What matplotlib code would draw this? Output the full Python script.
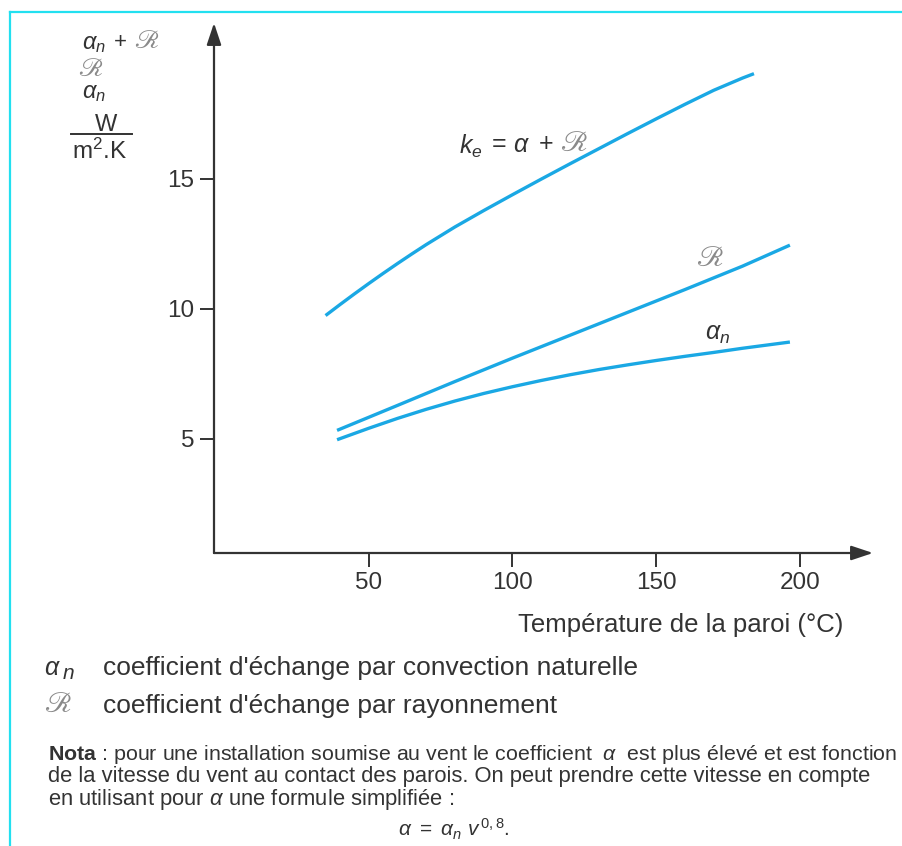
import matplotlib
matplotlib.use("Agg")
import matplotlib.pyplot as plt
from matplotlib.lines import Line2D

# --- data (W/m2.K against wall temperature, degC) ---
ke_x = [35, 40, 45, 50, 55, 60, 65, 70, 80, 90, 100, 110, 120, 130, 140, 150, 160, 170, 180, 184]
ke_y = [9.74, 10.16, 10.57, 10.97, 11.36, 11.74, 12.11, 12.47, 13.15, 13.78, 14.39, 14.99,
        15.58, 16.16, 16.74, 17.31, 17.87, 18.41, 18.88, 19.05]

r_x = [39, 60, 80, 100, 120, 140, 160, 180, 196.5]
r_y = [5.32, 6.28, 7.2, 8.1, 8.98, 9.86, 10.74, 11.64, 12.45]

an_x = [39, 50, 60, 70, 80, 90, 100, 110, 120, 130, 140, 150, 160, 170, 180, 196.5]
an_y = [4.96, 5.40, 5.78, 6.13, 6.45, 6.74, 7.0, 7.24, 7.46, 7.66, 7.84, 8.01, 8.17, 8.32,
        8.48, 8.72]

x_ticks = [50, 100, 150, 200]
y_ticks = [5, 10, 15]

BLUE = "#1aa8e4"
DARK = "#333333"
GREY = "#8a8a8a"
SCRIPT_R = "\u211B"

plt.rcParams["font.family"] = ["Liberation Sans", "DejaVu Sans"]
plt.rcParams["mathtext.fontset"] = "custom"
plt.rcParams["mathtext.rm"] = "Liberation Sans"
plt.rcParams["mathtext.it"] = "Liberation Sans:italic"
plt.rcParams["mathtext.bf"] = "Liberation Sans:bold"

W, H = 903, 846
fig = plt.figure(figsize=(W / 100, H / 100), dpi=100)


def px(x, y):
    return x / W, 1 - y / H


def script_r(x, y, size=21, **kw):
    fig.text(*px(x, y), SCRIPT_R, family="STIXGeneral", fontsize=size, color=GREY,
             va="center", **kw)


# axes: y axis at x=214px, x axis at y=553px, arrows to 873px / 23px
ax = fig.add_axes([214 / W, 1 - 553 / H, (873 - 214) / W, (553 - 23) / H])
ax.set_xlim(-3.8, 225.4)
ax.set_ylim(0.6, 21)
for s in ax.spines.values():
    s.set_visible(False)

arrow = dict(arrowstyle="-|>,head_length=0.6,head_width=0.2", color=DARK,
             lw=1.6, mutation_scale=22, shrinkA=0, shrinkB=0)
ax.annotate("", xy=(1, 0), xytext=(0, 0), xycoords="axes fraction", arrowprops=arrow)
ax.annotate("", xy=(0, 1), xytext=(0, 0), xycoords="axes fraction", arrowprops=arrow)

ax.set_xticks(x_ticks)
ax.set_yticks(y_ticks)
ax.tick_params(direction="out", length=10, width=1.4, color=DARK,
               labelsize=17.5, labelcolor=DARK, pad=4)

for xs, ys in [(ke_x, ke_y), (r_x, r_y), (an_x, an_y)]:
    ax.plot(xs, ys, color=BLUE, lw=2.4, solid_capstyle="butt", solid_joinstyle="round")

# curve labels
fig.text(*px(459, 146), r"$k_e$", fontsize=18, color=DARK, va="center")
fig.text(*px(492, 144), "=", fontsize=18, color=DARK, va="center")
fig.text(*px(513, 145), r"$\alpha$", fontsize=18, color=DARK, va="center")
fig.text(*px(539, 144), "+", fontsize=18, color=DARK, va="center")
script_r(561, 145)
script_r(697, 260)
fig.text(*px(705, 334), r"$\alpha_n$", fontsize=18, color=DARK, va="center")

# y axis label block
fig.text(*px(82, 44), r"$\alpha_n$", fontsize=17, color=DARK, va="center")
fig.text(*px(114, 43), "+", fontsize=16, color=DARK, va="center")
script_r(134, 42, size=19)
script_r(78, 70, size=19)
fig.text(*px(82, 93), r"$\alpha_n$", fontsize=17, color=DARK, va="center")
fig.text(*px(106, 125), "W", fontsize=17, color=DARK, va="center", ha="center")
fig.add_artist(Line2D([71 / W, 132 / W], [1 - 134 / H, 1 - 134 / H], color=DARK, lw=1.4))
fig.text(*px(100, 151), r"m$^2$.K", fontsize=17.5, color=DARK, va="center", ha="center")

# x axis label
fig.text(*px(843, 625), "Température de la paroi (°C)", fontsize=18.5, color=DARK,
         va="center", ha="right")

# legend text below
fig.text(*px(44, 668), r"$\alpha$", fontsize=18, color=DARK, va="center")
fig.text(*px(62, 673), r"$n$", fontsize=15, color=DARK, va="center")
fig.text(*px(103, 668), "coefficient d'échange par convection naturelle", fontsize=19,
         color=DARK, va="center")
script_r(45, 706)
fig.text(*px(103, 706), "coefficient d'échange par rayonnement", fontsize=19,
         color=DARK, va="center")

# nota
fig.text(*px(48, 760), r"$\mathbf{Nota}$ : pour une installation soumise au vent le coefficient"
         r"  $\alpha$  est plus élevé et est fonction", fontsize=15.4, color=DARK, va="baseline")
fig.text(*px(48, 782), "de la vitesse du vent au contact des parois. On peut prendre cette"
         " vitesse en compte", fontsize=15.8, color=DARK, va="baseline")
fig.text(*px(48, 805), r"en utilisant pour $\alpha$ une formule simplifiée :",
         fontsize=15.8, color=DARK, va="baseline")
fig.text(*px(454, 836), r"$\alpha\ =\ \alpha_n\ v^{\,0,8}$.", fontsize=15, color=DARK,
         va="baseline", ha="center")

# cyan frame
CYAN = "#22e0f0"
fig.add_artist(Line2D([10 / W, 10 / W], [0, 1 - 12 / H], color=CYAN, lw=1.6))
fig.add_artist(Line2D([10 / W, 1], [1 - 12 / H, 1 - 12 / H], color=CYAN, lw=1.6))

fig.savefig("out.png", dpi=100)
